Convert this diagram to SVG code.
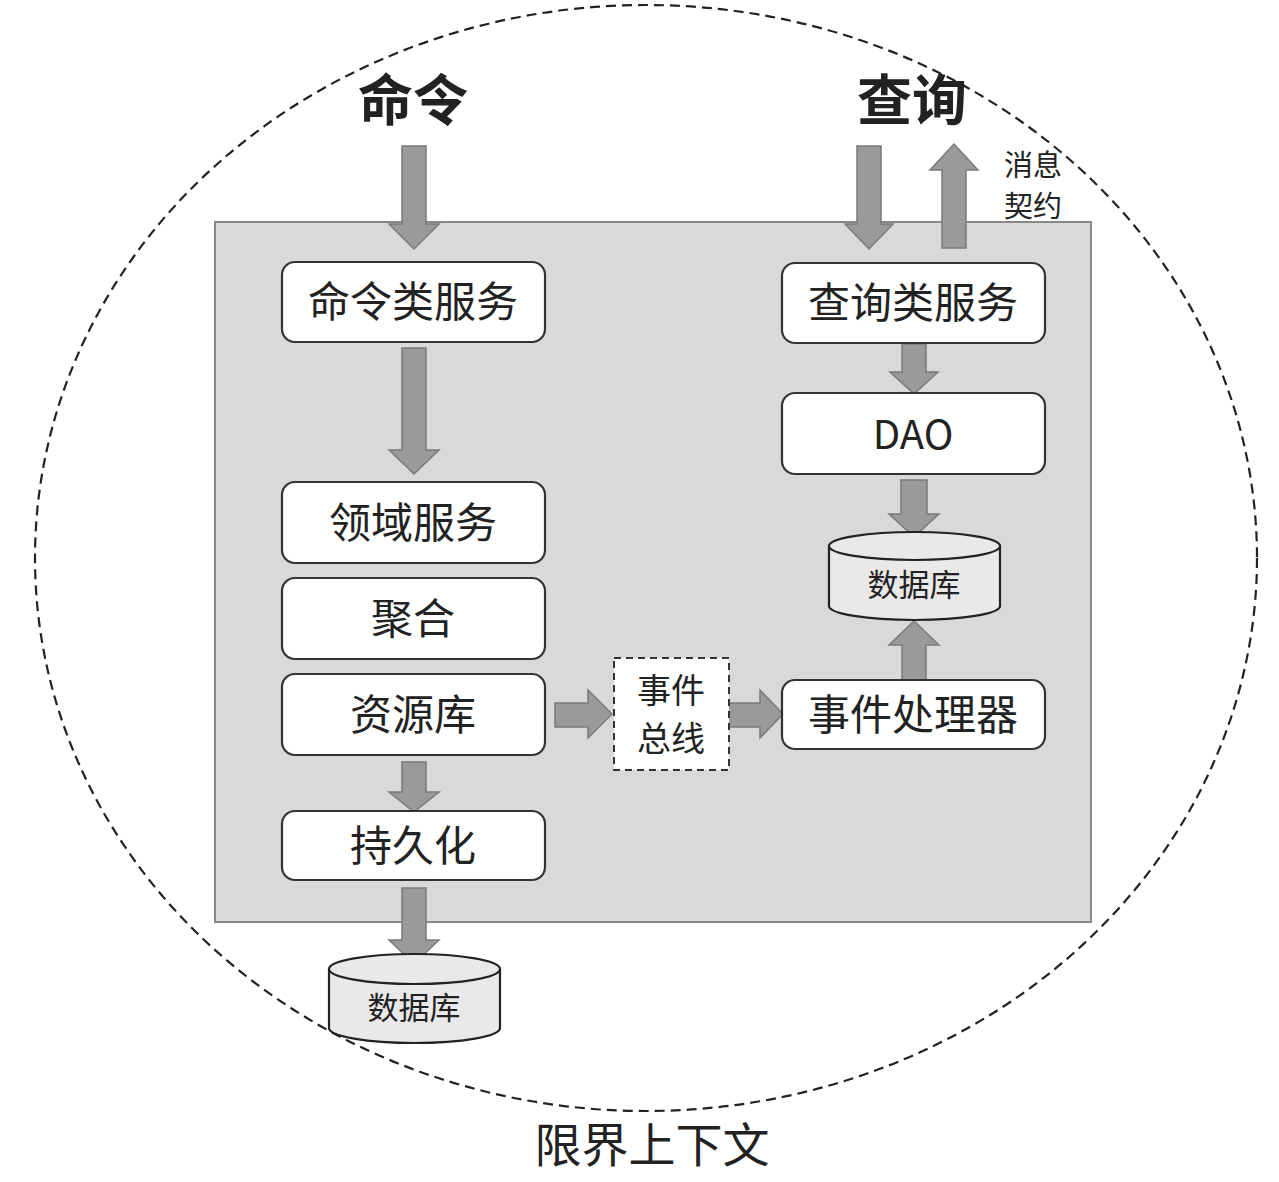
<svg xmlns="http://www.w3.org/2000/svg" width="1279" height="1182" viewBox="0 0 1279 1182">
<style>
.node{fill:#ffffff;stroke:#333333;stroke-width:2.2}
.t{font-family:"Noto Sans CJK SC","Liberation Sans",sans-serif;fill:#222222;text-anchor:middle}
.arr{fill:#9a9a9a;stroke:#7a7a7a;stroke-width:1.5}
.cyl{fill:#e9e9e9;stroke:#222222;stroke-width:2.2}
</style>
<rect width="1279" height="1182" fill="#ffffff"/>
<ellipse cx="646" cy="558" rx="611" ry="553" fill="none" stroke="#222222" stroke-width="2.2" stroke-dasharray="10,6"/>
<rect x="215" y="222" width="876" height="700" fill="#d9d9d9" stroke="#888888" stroke-width="2"/>

<text class="t" x="413" y="120" font-size="55" font-weight="bold">命令</text>
<text class="t" x="912" y="120" font-size="55" font-weight="bold">查询</text>
<text class="t" x="1033" y="176" font-size="29">消息</text>
<text class="t" x="1033" y="217" font-size="29">契约</text>
<text class="t" x="652" y="1162" font-size="47">限界上下文</text>

<g id="connectors">
<path class="arr" d="M402,146 L426,146 L426,224 L439,224 L414,249 L389,224 L402,224 Z"/>
<path class="arr" d="M402,348 L426,348 L426,450 L439,450 L414,474 L389,450 L402,450 Z"/>
<path class="arr" d="M402,762 L426,762 L426,792 L439,792 L414,812 L389,792 L402,792 Z"/>
<path class="arr" d="M402,888 L426,888 L426,940 L439,940 L414,964 L389,940 L402,940 Z"/>
<path class="arr" d="M857,146 L881,146 L881,224 L893,224 L869,249 L845,224 L857,224 Z"/>
<path class="arr" d="M942,248 L966,248 L966,170 L978,170 L954,144 L930,170 L942,170 Z"/>
<path class="arr" d="M902,344 L926,344 L926,372 L938,372 L914,394 L890,372 L902,372 Z"/>
<path class="arr" d="M901,480 L927,480 L927,514 L939,514 L914,537 L889,514 L901,514 Z"/>
<path class="arr" d="M902,680 L926,680 L926,645 L939,645 L914,621 L889,645 L902,645 Z"/>
<path class="arr" d="M555,703 L588,703 L588,690 L612,714 L588,738 L588,727 L555,727 Z"/>
<path class="arr" d="M728,703 L760,703 L760,690 L783,714 L760,738 L760,727 L728,727 Z"/>
</g>

<g id="n-cmd-svc"><rect class="node" x="282" y="262" width="263" height="80" rx="13"/><text class="t" x="413" y="317" font-size="42">命令类服务</text></g>
<g id="n-domain"><rect class="node" x="282" y="482" width="263" height="81" rx="13"/><text class="t" x="413" y="538" font-size="42">领域服务</text></g>
<g id="n-agg"><rect class="node" x="282" y="578" width="263" height="81" rx="13"/><text class="t" x="413" y="634" font-size="42">聚合</text></g>
<g id="n-repo"><rect class="node" x="282" y="674" width="263" height="81" rx="13"/><text class="t" x="413" y="730" font-size="42">资源库</text></g>
<g id="n-persist"><rect class="node" x="282" y="811" width="263" height="69" rx="13"/><text class="t" x="413" y="861" font-size="42">持久化</text></g>
<g id="n-query-svc"><rect class="node" x="782" y="263" width="263" height="80" rx="13"/><text class="t" x="913" y="318" font-size="42">查询类服务</text></g>
<g id="n-dao"><rect class="node" x="782" y="393" width="263" height="81" rx="13"/><text class="t" x="913" y="449" font-size="40" font-family="Liberation Sans, sans-serif">DAO</text></g>
<g id="n-handler"><rect class="node" x="782" y="680" width="263" height="69" rx="13"/><text class="t" x="913" y="730" font-size="42">事件处理器</text></g>
<g id="n-bus"><rect x="614" y="658" width="115" height="112" fill="#ffffff" stroke="#333333" stroke-width="2" stroke-dasharray="7,5"/><text class="t" x="671" y="703" font-size="34">事件</text><text class="t" x="671" y="751" font-size="34">总线</text></g>
<g id="n-db-right">
<path class="cyl" d="M829,546 L829,606 A85.5,14 0 0 0 1000,606 L1000,546"/>
<ellipse class="cyl" cx="914.5" cy="546" rx="85.5" ry="14"/>
<text class="t" x="914" y="596" font-size="31">数据库</text>
</g>
<g id="n-db-left">
<path class="cyl" d="M329,969 L329,1028 A85.5,15 0 0 0 500,1028 L500,969"/>
<ellipse class="cyl" cx="414.5" cy="969" rx="85.5" ry="15"/>
<text class="t" x="414" y="1019" font-size="31">数据库</text>
</g>
</svg>
